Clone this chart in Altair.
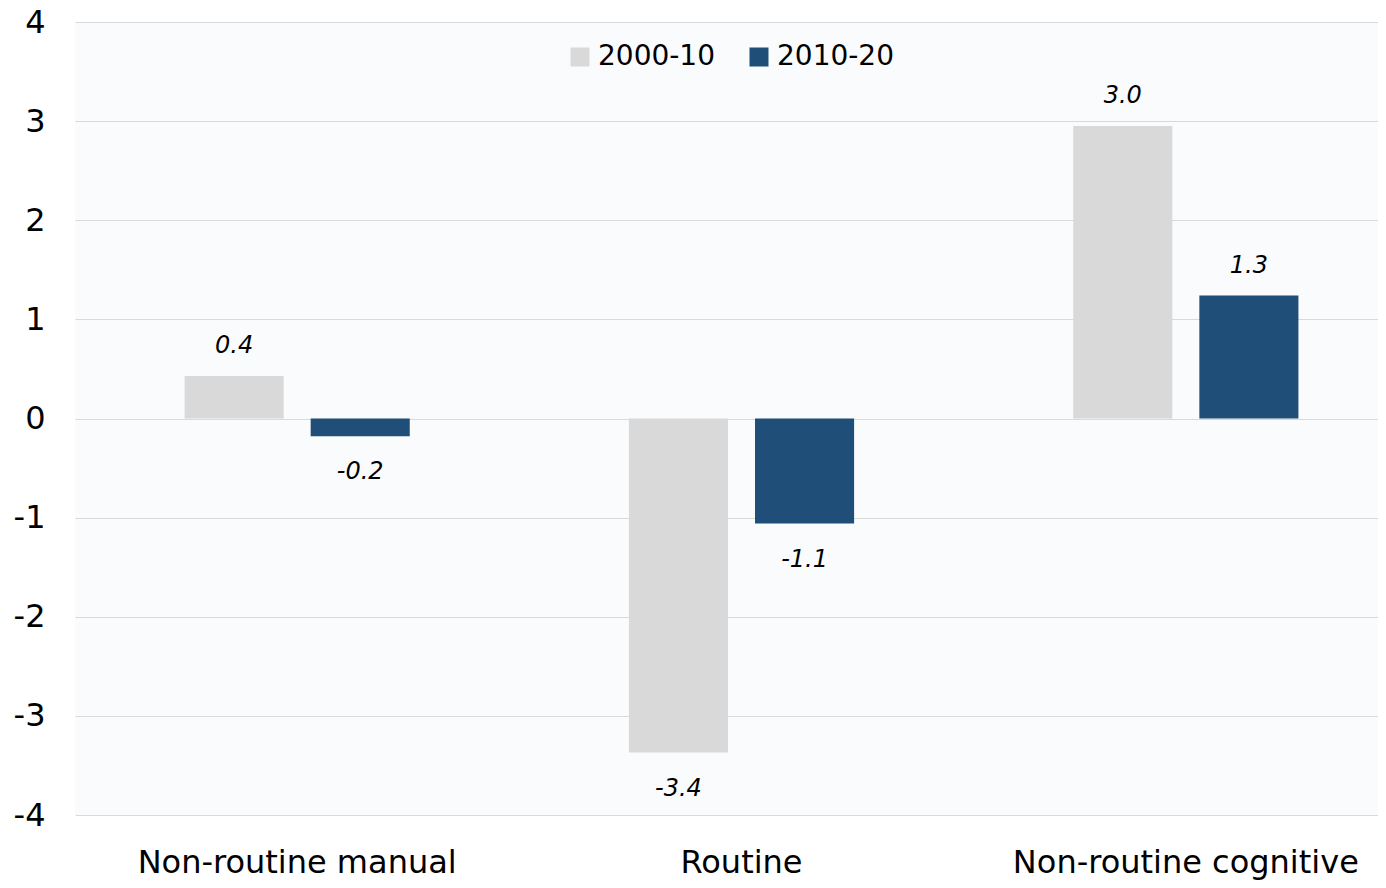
import altair as alt
import pandas as pd

CATEGORIES = ["Non-routine manual", "Routine", "Non-routine cognitive"]
SERIES = ["2000-10", "2010-20"]
VALUES_2000_10 = [0.43, -3.37, 2.95]
VALUES_2010_20 = [-0.18, -1.06, 1.24]
LABELS_2000_10 = ["0.4", "-3.4", "3.0"]
LABELS_2010_20 = ["-0.2", "-1.1", "1.3"]
COLORS = ["#D9D9D9", "#1F4E79"]
Y_TICKS = [-4, -3, -2, -1, 0, 1, 2, 3, 4]

rows = []
for i, c in enumerate(CATEGORIES):
    rows.append({"cat": c, "series": SERIES[0], "value": VALUES_2000_10[i], "label": LABELS_2000_10[i]})
    rows.append({"cat": c, "series": SERIES[1], "value": VALUES_2010_20[i], "label": LABELS_2010_20[i]})
df = pd.DataFrame(rows)

FONT = "DejaVu Sans"

x_enc = alt.X("cat:N", sort=CATEGORIES, title=None,
              scale=alt.Scale(range=[0, 1333], paddingInner=0, paddingOuter=0),
              axis=alt.Axis(labelAngle=0, labelFontSize=32, labelFont=FONT, labelColor="#000000",
                            ticks=False, domain=False, grid=False, labelPadding=32,
                            labelLimit=600))
xoff_enc = alt.XOffset("series:N", sort=SERIES,
                       scale=alt.Scale(paddingInner=0.2143, paddingOuter=0.869))
y_scale = alt.Scale(domain=[-4, 4], nice=False, zero=False)

base = alt.Chart(df)

bars = base.mark_bar().encode(
    x=x_enc,
    xOffset=xoff_enc,
    y=alt.Y("value:Q", scale=y_scale, title=None,
            axis=alt.Axis(values=Y_TICKS, labelExpr="datum.value + ''", labelFontSize=32, labelFont=FONT,
                          labelColor="#000000", ticks=False, domain=False, labelPadding=30,
                          grid=True, gridColor="#D9D9D9", gridWidth=1)),
    color=alt.Color("series:N", sort=SERIES, title=None,
                    scale=alt.Scale(domain=SERIES, range=COLORS),
                    legend=alt.Legend(orient="none", legendX=491, legendY=21, direction="horizontal",
                                      symbolType="square", symbolSize=361, symbolStrokeWidth=0,
                                      labelFontSize=28, labelFont=FONT, labelColor="#000000",
                                      labelOffset=4, columnPadding=30)),
)

pos_labels = base.transform_filter("datum.value >= 0").mark_text(
    font=FONT, fontSize=24, fontStyle="italic", color="#000000",
    baseline="alphabetic", align="center", dy=-23,
).encode(x=alt.X("cat:N", sort=CATEGORIES), xOffset=xoff_enc, y=alt.Y("value:Q", scale=y_scale),
         text="label:N")

neg_labels = base.transform_filter("datum.value < 0").mark_text(
    font=FONT, fontSize=24, fontStyle="italic", color="#000000",
    baseline="alphabetic", align="center", dy=43,
).encode(x=alt.X("cat:N", sort=CATEGORIES), xOffset=xoff_enc, y=alt.Y("value:Q", scale=y_scale),
         text="label:N")

chart = alt.layer(bars, pos_labels, neg_labels).properties(
    width=1303, height=793,
    autosize=alt.AutoSizeParams(type="none"),
    padding={"left": 67, "top": 14, "right": 0, "bottom": 65},
    background="#FFFFFF",
).configure_view(fill="#F9FBFD", stroke=None)

chart.save("out.html", embed_options={"renderer": "svg", "actions": False})
